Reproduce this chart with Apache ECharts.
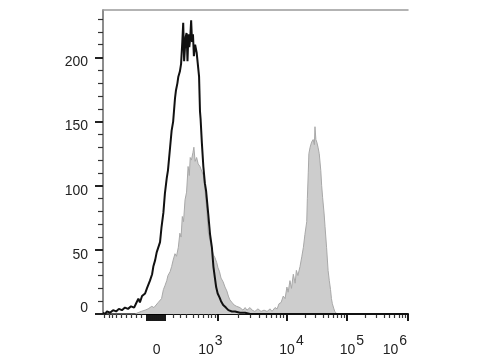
<!DOCTYPE html>
<html><head><meta charset="utf-8">
<script src="https://cdn.jsdelivr.net/npm/echarts@6/dist/echarts.min.js"></script>
<style>html,body{margin:0;padding:0;background:#fff}#c{width:480px;height:360px}</style>
</head><body><div id="c"></div>
<script>
// Histogram data in display channels (0..1000 across the logicle axis)
const blackX = [0,7,13,23,33,43,52,62,72,82,92,102,108,116,121,128,138,144,154,161,165,171,176,180,187,192,198,201,203,209,213,220,225,230,236,239,244,247,252,256,260,263,266,271,274,277,280,283,286,289,292,295,298,302,307,312,315,318,320,324,329,334,338,345,351,357,359,362,367,371,376,382,387,394,403,411,423,433,449,466,482,1000];
const blackY = [1,0,2,1,3,2,4,3,5,4,6,5,8,12,9,14,16,20,26,31,37,42,48,47,56,68,79,78,94,106,112,130,143,150,168,174,180,185,189,195,212,227,197,216,219,197,218,208,215,229,212,218,201,210,204,203,185,158,152,134,115,102,96,78,62,52,46,37,28,21,16,13,10,7,5,3,2,2,1,1,0,0];
const grayX = [0,105,115,125,131,138,148,154,160,167,174,181,187,192,198,203,209,213,220,225,230,236,241,247,252,256,260,264,269,274,279,283,286,290,295,298,302,307,312,318,324,329,333,336,340,345,351,358,362,367,373,377,382,387,394,400,406,411,416,423,430,438,449,459,466,472,482,489,498,508,518,528,538,548,554,564,571,577,584,591,597,603,607,613,618,624,630,634,639,646,652,657,662,668,670,673,675,679,684,689,693,695,698,701,705,709,714,717,720,725,728,733,738,742,746,749,752,757,760,767,1000];
const grayY = [0,0,1,2,1,3,4,3,6,5,7,9,8,12,19,22,26,30,33,37,42,47,45,52,63,60,76,72,89,95,115,108,122,120,126,130,119,122,117,115,114,108,100,92,82,64,57,50,46,44,40,36,33,28,25,21,18,14,11,9,7,6,5,3,5,3,5,3,2,4,2,3,2,4,2,5,4,8,9,14,12,21,17,26,20,31,24,34,30,37,45,52,62,72,90,110,125,130,134,136,132,146,136,134,130,125,112,100,91,78,68,52,34,26,19,12,8,4,2,0,0];

// Axes
const yLabelValues = [0,50,100,150,200];
const yMinorValues = [10,20,30,40,60,70,80,90,110,120,130,140,160,170,180,190,210,220,230];
const xMajorTicks = [144,151,157,164,170,177,184,190,197,203,376,602,799,1000];
const xMinorTicks = [3,19,30,44,60,76,93,109,125,230,252,274,296,312,329,345,356,367,444,484,512,534,552,567,580,592,662,696,721,740,755,769,780,790,860,895,921,940,956,970,981,992];
const xLabelValues = [176,352,618,816,957];
const xLabelBase = ['0','10','10','10','10'];
const xLabelExp = ['','3','4','5','6'];

const X_MIN = 0, X_MAX = 1000, Y_MIN = 0, Y_MAX = 237;
const FONT = 'Arial, "Liberation Sans", sans-serif';
const chart = echarts.init(document.getElementById('c'), null, {renderer: 'canvas'});

const pairs = (xs, ys) => xs.map((x, i) => [x, ys[i]]);
const baseX = {type: 'value', min: X_MIN, max: X_MAX, splitLine: {show: false}};
const baseY = {type: 'value', min: Y_MIN, max: Y_MAX, splitLine: {show: false}};

chart.setOption({
  animation: false,
  backgroundColor: '#ffffff',
  grid: {left: 103, right: 72, top: 10, bottom: 46, containLabel: false},
  xAxis: [
    Object.assign({}, baseX, {position: 'bottom',
      axisLine: {onZero: false, lineStyle: {color: '#111', width: 2}},
      axisTick: {show: true, customValues: xMajorTicks, length: 7, lineStyle: {color: '#000', width: 1.8}},
      axisLabel: {show: false}}),
    Object.assign({}, baseX, {position: 'bottom',
      axisLine: {show: false, onZero: false},
      axisTick: {show: true, customValues: xMinorTicks, length: 4, lineStyle: {color: '#333', width: 1.2}},
      axisLabel: {show: false}}),
    Object.assign({}, baseX, {position: 'bottom',
      axisLine: {show: false, onZero: false},
      axisTick: {show: false},
      axisLabel: {show: true, customValues: xLabelValues, margin: 20, hideOverlap: false,
        formatter: function (v) {
          const i = xLabelValues.indexOf(v);
          if (i < 0) return '';
          return xLabelExp[i] ? '{b|' + xLabelBase[i] + '}{s|' + xLabelExp[i] + '}' : '{b|' + xLabelBase[i] + '}';
        },
        rich: {
          b: {fontSize: 14, fontFamily: FONT, color: '#222', verticalAlign: 'bottom', padding: [9, 0, 0, 0]},
          s: {fontSize: 14, fontFamily: FONT, color: '#222', verticalAlign: 'bottom', padding: [0, 0, 9, 1]}
        }}}),
    Object.assign({}, baseX, {position: 'top',
      axisLine: {show: true, onZero: false, lineStyle: {color: '#9a9a9a', width: 1.5}},
      axisTick: {show: false}, axisLabel: {show: false}})
  ],
  yAxis: [
    Object.assign({}, baseY, {position: 'left',
      axisLine: {show: false},
      axisTick: {show: true, customValues: yLabelValues, length: 8, lineStyle: {color: '#222', width: 2}},
      axisLabel: {show: true, customValues: yLabelValues, margin: 15,
        formatter: function (v) { return v === 0 ? '{z|0}' : '{n|' + v + '}'; },
        rich: {
          n: {fontSize: 14, fontFamily: FONT, color: '#222', padding: [10, 0, 0, 0]},
          z: {fontSize: 14, fontFamily: FONT, color: '#222', padding: [0, 0, 12, 0]}
        }}}),
    Object.assign({}, baseY, {position: 'left',
      axisLine: {show: false},
      axisTick: {show: true, customValues: yMinorValues, length: 5, lineStyle: {color: '#333', width: 1.2}},
      axisLabel: {show: false}}),
    Object.assign({}, baseY, {position: 'right',
      axisLine: {show: true, lineStyle: {color: '#666', width: 1.5}},
      axisTick: {show: false}, axisLabel: {show: false}})
  ],
  series: [
    {type: 'line', name: 'stained', xAxisIndex: 0, yAxisIndex: 0, data: pairs(grayX, grayY),
      symbol: 'none', showSymbol: false, silent: true, z: 2,
      lineStyle: {color: '#a8a8a8', width: 1},
      areaStyle: {color: '#cdcdcd', opacity: 1}},
    {type: 'line', name: 'control', xAxisIndex: 0, yAxisIndex: 0, data: pairs(blackX, blackY),
      symbol: 'none', showSymbol: false, silent: true, z: 3,
      lineStyle: {color: '#111111', width: 2}}
  ]
});
</script>
</body></html>
